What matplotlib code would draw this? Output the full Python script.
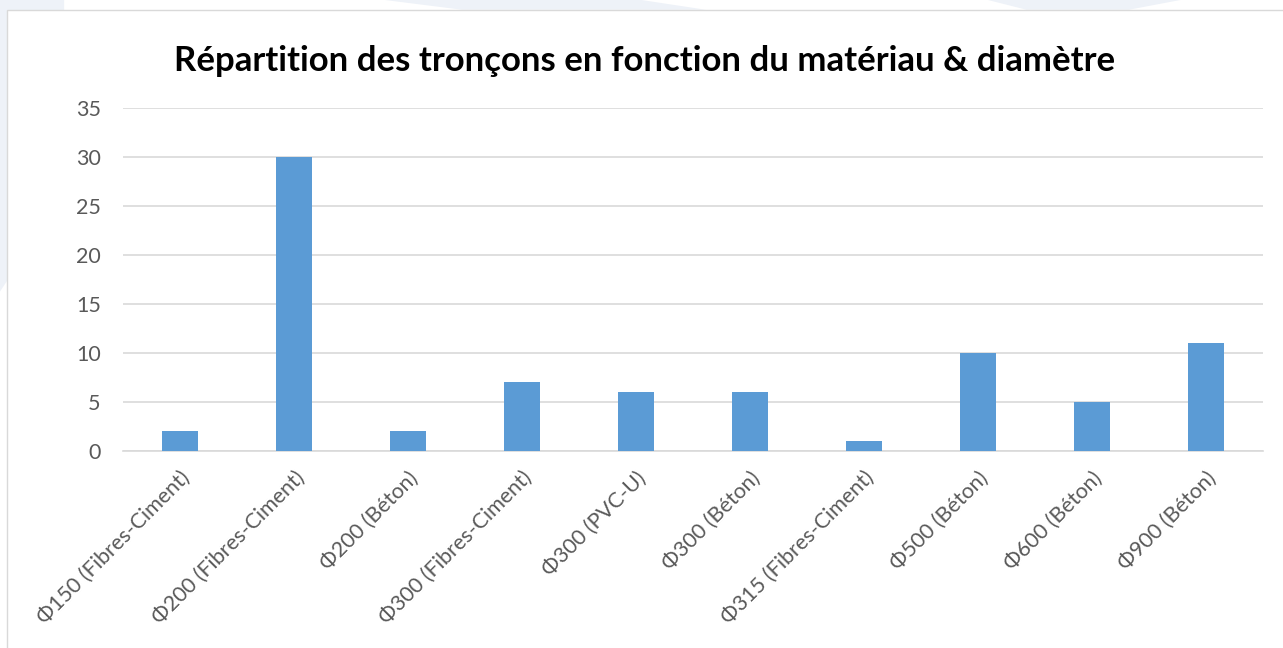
import matplotlib
matplotlib.use("Agg")
import matplotlib.pyplot as plt
from matplotlib.patches import Rectangle, Polygon

# ── data ────────────────────────────────────────────────────────────────────
categories = ["Φ150 (Fibres-Ciment)", "Φ200 (Fibres-Ciment)", "Φ200 (Béton)",
              "Φ300 (Fibres-Ciment)", "Φ300 (PVC-U)", "Φ300 (Béton)",
              "Φ315 (Fibres-Ciment)", "Φ500 (Béton)", "Φ600 (Béton)",
              "Φ900 (Béton)"]
counts = [2, 30, 2, 7, 6, 6, 1, 10, 5, 11]
yticks = [0, 5, 10, 15, 20, 25, 30, 35]

TITLE = "Répartition des tronçons en fonction du matériau & diamètre"
FONT = ["Lato", "DejaVu Sans"]

W, H = 1283, 648
fig = plt.figure(figsize=(W / 100, H / 100), dpi=100)
fig.patch.set_facecolor("white")

# faint background watermark shapes outside the chart frame
for pts in ([(0, 1), (0, 0.55), (0.05, 0.7), (0.05, 1)],
            [(0.30, 1), (0.36, 0.985), (0.55, 0.985), (0.50, 1)],
            [(0.77, 1), (0.80, 0.985), (0.88, 0.985), (0.92, 1)]):
    fig.patches.append(Polygon(pts, closed=True, transform=fig.transFigure,
                               facecolor="#eef2f8", edgecolor="none", zorder=0))

# chart frame
fig.patches.append(Rectangle((7 / W, -0.01), 1.0, 1 - 10 / H - (-0.01),
                             transform=fig.transFigure, facecolor="white",
                             edgecolor="#d9d9d9", lw=1.0, zorder=1))

# ── axes ────────────────────────────────────────────────────────────────────
x0, x1 = 123, 1263
y_top, y_bot = 108, 451
ax = fig.add_axes([x0 / W, 1 - y_bot / H, (x1 - x0) / W, (y_bot - y_top) / H])
ax.set_facecolor("none")
ax.set_zorder(2)

pos = range(len(categories))
ax.bar(pos, counts, width=0.315, color="#5b9bd5", zorder=3)

ax.set_xlim(-0.5, len(categories) - 0.5)
ax.set_ylim(0, 35)
ax.set_yticks(yticks)
ax.yaxis.grid(True, color="#d9d9d9", lw=1.2)
ax.set_axisbelow(True)
for s in ("top", "right", "left"):
    ax.spines[s].set_visible(False)
ax.spines["bottom"].set_color("#d9d9d9")
ax.spines["bottom"].set_linewidth(1.2)
ax.tick_params(axis="both", length=0, colors="#595959", labelsize=15.5)
ax.tick_params(axis="y", pad=16)
ax.tick_params(axis="x", pad=12)
ax.set_xticks(list(pos))
ax.set_xticklabels(categories, rotation=45, ha="right", va="top",
                   rotation_mode="anchor", family=FONT, color="#595959")
for lbl in ax.get_yticklabels():
    lbl.set_family(FONT)

fig.text(0.502, 1 - 61 / H, TITLE, ha="center", va="center",
         fontsize=25, fontweight="bold", family=FONT, color="black")

fig.savefig("out.png", dpi=100, facecolor=fig.get_facecolor())
